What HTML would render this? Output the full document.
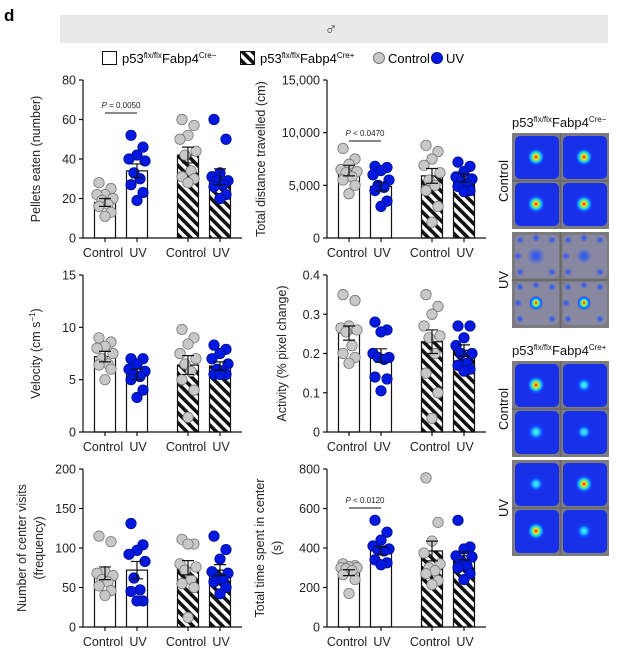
<!DOCTYPE html>
<html><head><meta charset="utf-8"><style>
html,body{margin:0;padding:0;background:#fff}
svg{display:block;font-family:"Liberation Sans",Arial,sans-serif}
</style></head><body>
<svg id="fig" width="626" height="659" viewBox="0 0 626 659" xmlns="http://www.w3.org/2000/svg">
<defs>
<pattern id="hatch" patternUnits="userSpaceOnUse" width="7" height="7" patternTransform="rotate(-45)">
<rect width="7" height="7" fill="#fff"/><rect width="3.6" height="7" fill="#111"/>
</pattern>
<radialGradient id="hot"><stop offset="0" stop-color="#d00000"/><stop offset="0.25" stop-color="#ffe000"/><stop offset="0.5" stop-color="#20e0e0"/><stop offset="0.8" stop-color="#1050ff"/><stop offset="1" stop-color="#1040ff" stop-opacity="0"/></radialGradient>
<radialGradient id="warm"><stop offset="0" stop-color="#60ffd0"/><stop offset="0.35" stop-color="#20c0ff"/><stop offset="0.7" stop-color="#1040ff"/><stop offset="1" stop-color="#1040ff" stop-opacity="0"/></radialGradient>
<radialGradient id="blob"><stop offset="0" stop-color="#2050ff"/><stop offset="1" stop-color="#2050ff" stop-opacity="0"/></radialGradient>
</defs>
<text x="4" y="21" font-size="17" font-weight="bold">d</text>
<rect x="60" y="15" width="548" height="28" fill="#e9e9e9"/>
<text x="331" y="35" font-size="17" text-anchor="middle" fill="#444">♂</text>
<g font-size="13">
<rect x="102.5" y="51.5" width="14" height="13" fill="#fff" stroke="#111"/>
<text x="122" y="63">p53<tspan font-size="8" dy="-5">flx/flx</tspan><tspan dy="5">Fabp4</tspan><tspan font-size="8" dy="-5">Cre−</tspan></text>
<rect x="240.5" y="51.5" width="14" height="13" fill="url(#hatch)" stroke="#111"/>
<text x="260" y="63">p53<tspan font-size="8" dy="-5">flx/flx</tspan><tspan dy="5">Fabp4</tspan><tspan font-size="8" dy="-5">Cre+</tspan></text>
<circle cx="379" cy="58" r="5.5" fill="#c8c8c8" stroke="#777"/>
<text x="388" y="63">Control</text>
<circle cx="437" cy="58" r="5.5" fill="#0018e0" stroke="#00108a"/>
<text x="446" y="63">UV</text>
</g>
<g id="charts"></g>
<g id="heat"></g>
</svg>
<script>
// ---- data (groups: Cre- Control, Cre- UV, Cre+ Control, Cre+ UV) ----
const groups = ["Cre- Control","Cre- UV","Cre+ Control","Cre+ UV"];
const pelletsMean = [18,34,42,31];
const pelletsSem = [2,3.5,4,4];
const pelletsPts = [[28,25,22,22,20,19,17,16,13,11],[52,46,42,40,39,33,30,27,23,19],[60,57,52,50,44,42,34,31,30,28],[60,50,33,31,29,29,27,26,22,20]];
const distMean = [6400,4900,5900,5700];
const distSem = [500,400,700,400];
const distPts = [[8500,7500,7000,6500,6300,6200,5800,5500,5000,4200],[6800,6700,6400,6000,5500,5000,4800,4500,3500,3000],[8800,8200,7500,6900,6200,5500,5000,4500,3000,1500],[7200,6800,6300,5800,5600,5300,5100,4900,4500,4400]];
const velMean = [7.2,5.5,6.4,6.3];
const velSem = [0.5,0.5,0.9,0.4];
const velPts = [[9,8.6,8.2,8,7.5,7,6.5,6.4,6,5],[7,7,6.5,6,5.8,5.5,5.3,5,4,3.3],[9.8,9,8.4,7.5,7,6.5,5.8,5,4,1.4],[8.3,7.9,7.5,7,6.5,6,5.8,5.5,5.5,5.5]];
const actMean = [0.252,0.195,0.23,0.208];
const actSem = [0.018,0.017,0.03,0.014];
const actPts = [[0.35,0.335,0.27,0.265,0.26,0.255,0.22,0.2,0.19,0.175],[0.28,0.26,0.255,0.2,0.19,0.19,0.185,0.14,0.135,0.105],[0.35,0.32,0.3,0.27,0.245,0.24,0.2,0.15,0.1,0.035],[0.27,0.27,0.24,0.22,0.2,0.2,0.175,0.17,0.16,0.155]];
const visitMean = [68,72,75,72];
const visitSem = [8,11,9,7];
const visitPts = [[115,108,70,68,65,60,57,52,46,40],[131,104,97,92,83,62,47,45,33,33],[111,105,105,80,76,72,60,55,50,12],[115,98,86,70,68,62,60,57,50,42]];
const timeMean = [275,385,385,360];
const timeSem = [15,20,50,20];
const timePts = [[320,310,305,300,300,295,285,265,240,170],[540,480,440,410,395,390,385,340,325,315],[755,530,435,375,320,300,285,270,235,215],[540,405,395,360,355,335,310,300,270,240]];
const pelletsTicks = [0,20,40,60,80];
const distTicks = [0,5000,10000,15000];
const distTickLabels = ["0","5,000","10,000","15,000"];
const velTicks = [0,5,10,15];
const actTicks = [0,0.1,0.2,0.3,0.4];
const actTickLabels = ["0","0.1","0.2","0.3","0.4"];
const visitTicks = [0,50,100,150,200];
const timeTicks = [0,200,400,600,800];
const catLabels = ["Control","UV","Control","UV"];

const NS="http://www.w3.org/2000/svg";
const root=document.getElementById('charts');
function mk(tag,attrs,parent){const e=document.createElementNS(NS,tag);for(const k in attrs)e.setAttribute(k,attrs[k]);(parent||root).appendChild(e);return e;}
const jit=[-6,6,0,-8,8,-3,3,-6,6,0];

function panel(name,ax,yTop,yBot,max,ticks,tickLabels,means,sems,pts,ylabelLines,pval,titleX){
  const g=mk('g',{});
  
  
  const y=v=>yBot-(v/max)*(yBot-yTop);
  const offs=[22,54,105,137];
  const x=i=>ax+offs[i];
  means.forEach((m,i)=>{
    const r=mk('rect',{x:x(i)-10.5,y:y(m),width:21,height:yBot-y(m),fill:i<2?'#fff':'url(#hatch)',stroke:'#111','stroke-width':1.2},g);
    
    
  });
  pts.forEach((arr,i)=>{arr.forEach((v,j)=>{
    const c=mk('circle',{cx:x(i)+jit[j],cy:y(v),r:5.2,fill:i%2?'#0018e0':'#c8c8c8',stroke:i%2?'#00108a':'#777','stroke-width':0.8},g);
    
    
  });});
  means.forEach((m,i)=>{
    const e=mk('path',{d:`M${x(i)},${y(m-sems[i])}V${y(m+sems[i])}M${x(i)-6},${y(m+sems[i])}H${x(i)+6}M${x(i)-6},${y(m-sems[i])}H${x(i)+6}`,stroke:'#111','stroke-width':1.2,fill:'none'},g);
    
    
  });
  const axl=mk('path',{d:`M${ax},${yTop}V${yBot}H${ax+159}`,stroke:'#111','stroke-width':1.2,fill:'none'},g);
  
  
  ticks.forEach((t,k)=>{
    mk('line',{x1:ax-4,x2:ax,y1:y(t),y2:y(t),stroke:'#111','stroke-width':1.2},g);
    const tl=mk('text',{x:ax-7,y:y(t)+4.5,'font-size':12.5,'text-anchor':'end',fill:'#222'},g);
    tl.textContent=tickLabels?tickLabels[k]:String(t);
    
    
  });
  catLabels.forEach((c,i)=>{
    mk('line',{x1:x(i),x2:x(i),y1:yBot,y2:yBot+4,stroke:'#111','stroke-width':1.2},g);
    const t=mk('text',{x:i%2?x(i)+1:x(i)-2,y:yBot+19,'font-size':12.5,'text-anchor':'middle',fill:'#222'},g);
    t.textContent=c;
    
    
  });
  const cy=(yTop+yBot)/2;
  const yl=mk('text',{transform:`translate(${titleX},${cy}) rotate(-90)`,'font-size':12.5,'text-anchor':'middle',fill:'#222'},g);
  
  
  ylabelLines.forEach((l,k)=>{const ts=mk('tspan',{x:0,dy:k?17:0},yl);ts.innerHTML=l;});
  if(pval){
    mk('line',{x1:x(0),x2:x(1),y1:pval[1],y2:pval[1],stroke:'#111','stroke-width':1},g);
    const pt=mk('text',{x:(x(0)+x(1))/2,y:pval[1]-5,'font-size':8,'text-anchor':'middle',fill:'#222'},g);
    pt.innerHTML='<tspan font-style="italic">P</tspan> '+pval[0];
    
    
  }
}
panel('pellets-eaten',83,80,238,80,pelletsTicks,null,pelletsMean,pelletsSem,pelletsPts,['Pellets eaten (number)'],['= 0.0050',113],40);
panel('total-distance',327,80,238,15000,distTicks,distTickLabels,distMean,distSem,distPts,['Total distance travelled (cm)'],['&lt; 0.0470',141],265);
panel('velocity',83,275,432,15,velTicks,null,velMean,velSem,velPts,['Velocity (cm s<tspan font-size="8" dy="-5">−1</tspan><tspan dy="5">)</tspan>'],null,40);
panel('activity',327,275,432,0.4,actTicks,actTickLabels,actMean,actSem,actPts,['Activity (% pixel change)'],null,286);
panel('center-visits',83,469,627,200,visitTicks,null,visitMean,visitSem,visitPts,['Number of center visits','(frequency)'],null,26);
panel('time-in-center',327,469,627,800,timeTicks,null,timeMean,timeSem,timePts,['Total time spent in center','(s)'],['&lt; 0.0120',508],264);

// ---- heatmaps ----
const H=document.getElementById('heat');
function hm(parent,x0,y0,active,hots){
  const g=mk('g',{},parent);
  
  
  mk('rect',{x:x0,y:y0,width:97,height:96,fill:'#7c7c80'},g);
  for(let q=0;q<4;q++){
    const qx=x0+2+(q%2)*48, qy=y0+2+Math.floor(q/2)*47;
    if(active) mk('rect',{x:qx+1,y:qy+1,width:44,height:43,rx:5,fill:'#1830e8'},g);
    else { mk('rect',{x:qx+1,y:qy+1,width:44,height:43,rx:5,fill:'#8888a0'},g);
      [[6,6],[38,6],[6,38],[38,38],[22,4],[4,22]].forEach(p=>mk('circle',{cx:qx+p[0],cy:qy+p[1],r:4,fill:'url(#blob)'},g)); }
    mk('circle',{cx:qx+22,cy:qy+22,r:hots[q][0],fill:'url(#'+hots[q][1]+')'},g);
  }
  mk('path',{d:`M${x0},${y0+48}H${x0+97}M${x0+48.5},${y0}V${y0+96}`,stroke:'#666','stroke-width':1.5},g);
}
function label(txt,x,y,sup){const t=mk('text',{x:x,y:y,'font-size':13,fill:'#111'},H);t.innerHTML='p53<tspan font-size="8" dy="-5">flx/flx</tspan><tspan dy="5">Fabp4</tspan><tspan font-size="8" dy="-5">'+sup+'</tspan>';}
function side(txt,y){const t=mk('text',{transform:`translate(508,${y}) rotate(-90)`,'font-size':13,'text-anchor':'middle',fill:'#111'},H);t.textContent=txt;}
label('',512,127,'Cre−');
hm(H,512,133,true,[[9,'hot'],[9,'hot'],[9,'hot'],[9,'hot']]);
hm(H,512,232,false,[[9,'blob'],[8,'blob'],[7,'hot'],[7,'hot']]);
label('',512,355,'Cre+');
hm(H,512,361,true,[[9,'hot'],[8,'warm'],[9,'warm'],[8,'warm']]);
hm(H,512,460,true,[[8,'warm'],[9,'hot'],[9,'hot'],[8,'warm']]);
side('Control',181); side('UV',280); side('Control',409); side('UV',508);
</script>
</body></html>
